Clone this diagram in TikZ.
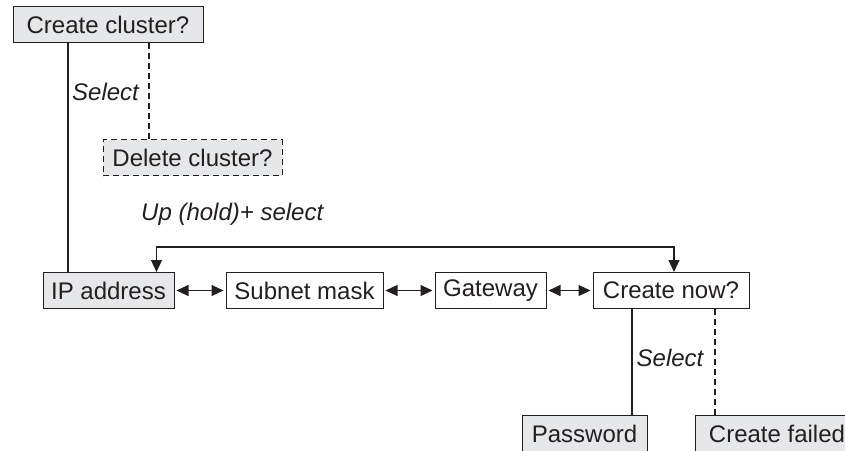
\documentclass[tikz,border=0pt]{standalone}
\usepackage{fontspec}
\setmainfont{Liberation Sans}
\usetikzlibrary{arrows.meta,positioning}

\definecolor{boxgray}{RGB}{230,231,232}
\definecolor{inkgray}{RGB}{35,31,32}

\begin{document}
\begin{tikzpicture}[
  x=1pt, y=-1pt,
  node distance=51pt,
  every node/.style={font=\fontsize{24}{28}\selectfont, text=inkgray},
  menu/.style={draw=inkgray, line width=1pt, minimum height=36pt,
               inner sep=3pt, fill=white},
  shaded/.style={menu, fill=boxgray},
  hint/.style={font=\fontsize{24}{28}\selectfont\itshape, inner sep=0pt},
  link/.style={draw=inkgray, line width=1.1pt},
  dashlink/.style={link, dash pattern=on 6pt off 4pt},
  arr/.style={link, {Triangle[length=12pt,width=11pt]}-{Triangle[length=12pt,width=11pt]},
              shorten <=2pt, shorten >=2pt},
  looparr/.style={link, {Triangle[length=12pt,width=11pt]}-{Triangle[length=12pt,width=11pt]}},
]
\useasboundingbox (0,0) rectangle (845,450);

% cluster menu
\node[shaded, minimum width=190pt] (ccq) at (108,24.5) {Create cluster?};
\node[shaded, dash pattern=on 6pt off 4pt, minimum width=179pt] (dcq) at (192.5,157.5) {Delete cluster?};

% settings row
\node[shaded, minimum width=131pt] (ip) at (108.5,290.5) {IP address};
\node[menu, minimum width=157pt, right=of ip]        (subnet) {Subnet mask};
\node[menu, minimum width=111pt, right=of subnet]    (gw)     {Gateway};
\node[menu, minimum width=156pt, right=46pt of gw]   (cnow)   {Create now?};

% results
\node[shaded, minimum width=125pt] (pw) at (584.5,433.5) {Password};
\node[shaded, minimum width=164pt, right=47pt of pw] (cf) {Create failed};

% labels
\node[hint, anchor=base]      (sel1)   at (105.5,100.5) {Select};
\node[hint, anchor=base west] (uphold) at (141,220)     {Up (hold)+ select};
\node[hint, anchor=base]      (sel2)   at (670,366)     {Select};
\coordinate (loop) at (0,247);

\draw[link]     ([xshift=-40pt]ccq.south) -- ([xshift=-40pt]ccq.south |- ip.north);
\draw[dashlink] ([xshift=41pt]ccq.south)  -- ([xshift=41pt]ccq.south |- dcq.north);

\draw[arr] (ip)     -- (subnet);
\draw[arr] (subnet) -- (gw);
\draw[arr] (gw)     -- (cnow);
\draw[looparr] ([xshift=48pt]ip.north) -- ([xshift=48pt]ip.north |- loop)
                -| ([xshift=3pt]cnow.north);

\draw[link]     ([xshift=-39pt]cnow.south) -- ([xshift=-39pt]cnow.south |- pw.north);
\draw[dashlink] ([xshift=44pt]cnow.south)  -- ([xshift=44pt]cnow.south |- cf.north);
\end{tikzpicture}
\end{document}
